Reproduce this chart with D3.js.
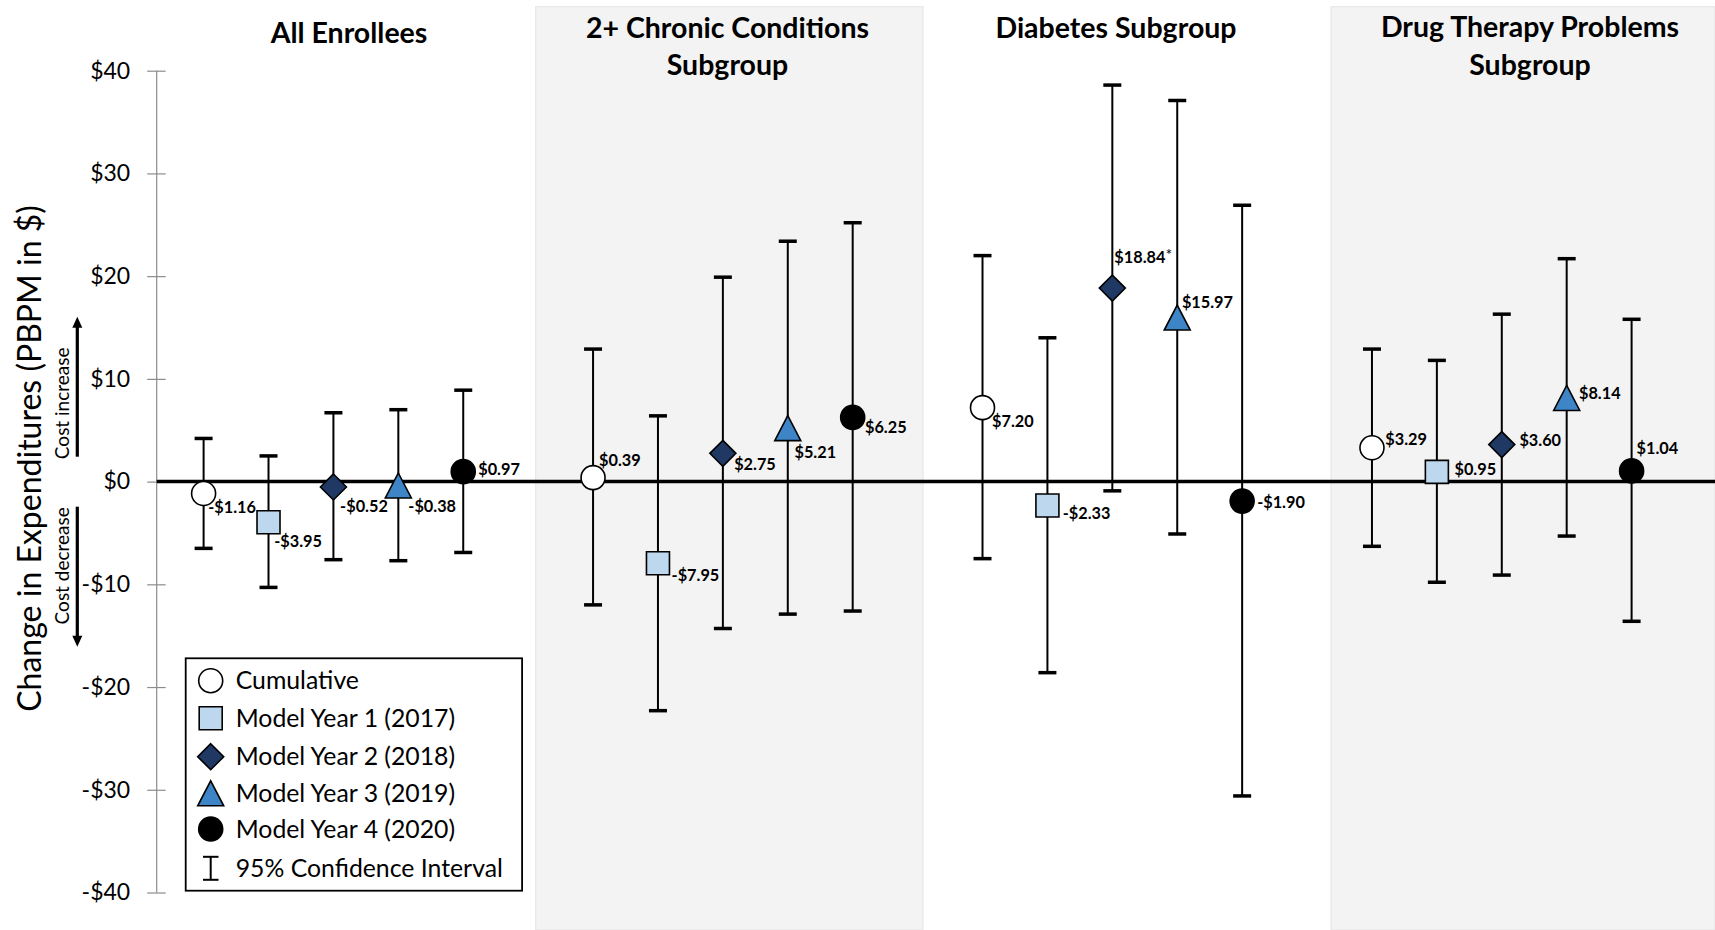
<!DOCTYPE html>
<html><head><meta charset="utf-8">
<script src="https://cdn.jsdelivr.net/npm/d3@7"></script>
<style>
html,body{margin:0;padding:0;background:#fff;}
svg{display:block;font-family:Lato,"Open Sans",sans-serif;}
</style>
</head><body>
<svg id="chart" width="1715" height="930"></svg>
<script>
// ---------------- DATA ----------------
const groups = ["All Enrollees", "2+ Chronic Conditions Subgroup", "Diabetes Subgroup", "Drug Therapy Problems Subgroup"];
const groupTitleLines = [["All Enrollees"], ["2+ Chronic Conditions", "Subgroup"], ["Diabetes Subgroup"], ["Drug Therapy Problems", "Subgroup"]];
const seriesNames = ["Cumulative", "Model Year 1 (2017)", "Model Year 2 (2018)", "Model Year 3 (2019)", "Model Year 4 (2020)"];
const yTickValues = [-40, -30, -20, -10, 0, 10, 20, 30, 40];

const cumulativeEst  = [-1.16, 0.39, 7.20, 3.29];
const cumulativeLow  = [-6.5, -12.0, -7.5, -6.3];
const cumulativeHigh = [4.2, 12.9, 22.0, 12.9];

const my1Est  = [-3.95, -7.95, -2.33, 0.95];
const my1Low  = [-10.3, -22.3, -18.6, -9.8];
const my1High = [2.5, 6.4, 14.0, 11.8];

const my2Est  = [-0.52, 2.75, 18.84, 3.60];
const my2Low  = [-7.6, -14.3, -0.9, -9.1];
const my2High = [6.7, 19.9, 38.6, 16.3];

const my3Est  = [-0.38, 5.21, 15.97, 8.14];
const my3Low  = [-7.7, -12.9, -5.1, -5.3];
const my3High = [7.0, 23.4, 37.1, 21.7];

const my4Est  = [0.97, 6.25, -1.90, 1.04];
const my4Low  = [-6.9, -12.6, -30.6, -13.6];
const my4High = [8.9, 25.2, 26.9, 15.8];

// statistically significant estimates (marked with *)
const my2Significant = [false, false, true, false];
const otherSignificant = [false, false, false, false];

const seriesEst  = [cumulativeEst, my1Est, my2Est, my3Est, my4Est];
const seriesLow  = [cumulativeLow, my1Low, my2Low, my3Low, my4Low];
const seriesHigh = [cumulativeHigh, my1High, my2High, my3High, my4High];
const seriesSig  = [otherSignificant, otherSignificant, my2Significant, otherSignificant, otherSignificant];

// ---------------- LAYOUT (not data) ----------------
const W = 1715, H = 930;
const axisX = 156.7;
const panelEdges = [axisX, 535.7, 923, 1331, W];
const shadedPanels = [1, 3];
const titleCenters = [349, 727.5, 1116, 1530];
const titleBaselines = [[42.7], [37.7, 75], [38.3], [37.3, 75]];
// label offsets [dx, dy] of text baseline-start relative to the point
const labelOffsets = [
  [[4.6, 19], [5.7, 25], [6.7, 25.4], [10, 26], [15, 3]],
  [[6, -11.3], [13.6, 18], [11.3, 16.2], [6.7, 29.8], [12.3, 15.5]],
  [[9.6, 19.7], [15.3, 13.4], [2, -25.2], [4.7, -9.7], [15, 6.8]],
  [[13.3, -3.2], [17.6, 2.8], [17.6, 1], [12.3, 0.6], [5, -17.3]]
];
const seriesStyle = [
  {shape: "circle",   fill: "#ffffff"},
  {shape: "square",   fill: "#bdd7ee"},
  {shape: "diamond",  fill: "#1f3864"},
  {shape: "triangle", fill: "#3d85c6"},
  {shape: "circle",   fill: "#000000"}
];

const svg = d3.select("#chart");

const y = d3.scaleLinear().domain([-40, 40]).range([892.5, 70.7]);
const slotsPerGroup = seriesNames.length + 1;
const x = d3.scaleLinear().domain([0, (groups.length - 1) * slotsPerGroup + seriesNames.length - 1]).range([203.6, 1631.6]);
const px = (g, s) => x(g * slotsPerGroup + s);

// panel shading
svg.append("g").selectAll("rect")
  .data(shadedPanels)
  .join("rect")
  .attr("x", d => panelEdges[d])
  .attr("y", 6.7)
  .attr("width", d => panelEdges[d + 1] - panelEdges[d])
  .attr("height", H - 6.7)
  .attr("fill", "#f3f3f3")
  .attr("stroke", "#e4e4e4")
  .attr("stroke-width", 1);

// titles
const tg = svg.append("g");
groupTitleLines.forEach((lines, gi) => {
  lines.forEach((ln, li) => {
    tg.append("text")
      .attr("x", titleCenters[gi])
      .attr("y", titleBaselines[gi][li])
      .attr("text-anchor", "middle")
      .attr("font-weight", 700)
      .attr("font-size", 28.5)
      .attr("fill", "#000")
      .text(ln);
  });
});

// y axis
const fmtTick = v => (v < 0 ? "-" : "") + "$" + Math.abs(v);
const axis = svg.append("g")
  .attr("transform", `translate(${axisX},0)`)
  .call(d3.axisLeft(y).tickValues(yTickValues).tickFormat(fmtTick).tickSize(9.5).tickPadding(17));
axis.select(".domain").attr("stroke", "#8c8c8c").attr("stroke-width", 1.2).attr("d", `M0,${y(40)}V${y(-40)}`);
axis.selectAll(".tick line").attr("x1", 9).attr("x2", -9.5).attr("stroke", "#8c8c8c").attr("stroke-width", 1.2);
axis.selectAll(".tick text").attr("font-size", 23).attr("fill", "#000").attr("font-family", "Lato");

// zero line
svg.append("line")
  .attr("x1", axisX).attr("x2", W)
  .attr("y1", y(0)).attr("y2", y(0))
  .attr("stroke", "#000").attr("stroke-width", 3.5);

// y title
svg.append("text")
  .attr("transform", `translate(41,${458.5}) rotate(-90)`)
  .attr("text-anchor", "middle")
  .attr("font-size", 32)
  .attr("fill", "#000")
  .text("Change in Expenditures (PBPM in $)");

// cost increase / decrease
svg.append("text")
  .attr("transform", `translate(69,403.3) rotate(-90)`)
  .attr("text-anchor", "middle").attr("font-size", 19).attr("fill", "#000")
  .text("Cost increase");
svg.append("text")
  .attr("transform", `translate(69,565.8) rotate(-90)`)
  .attr("text-anchor", "middle").attr("font-size", 19).attr("fill", "#000")
  .text("Cost decrease");
function arrow(x0, yFrom, yTip) {
  const dir = yTip < yFrom ? -1 : 1;
  svg.append("line").attr("x1", x0).attr("x2", x0).attr("y1", yFrom).attr("y2", yTip - dir * 9)
    .attr("stroke", "#000").attr("stroke-width", 3.2);
  svg.append("path")
    .attr("d", `M${x0},${yTip}L${x0 - 5},${yTip - dir * 11}L${x0 + 5},${yTip - dir * 11}Z`)
    .attr("fill", "#000");
}
arrow(77.3, 456.7, 316.7);
arrow(77.3, 506.7, 646.7);

// marker shapes
function markerPath(shape) {
  if (shape === "circle") return d3.symbol(d3.symbolCircle, Math.PI * 12 * 12)();
  if (shape === "square") return d3.symbol(d3.symbolSquare, 23 * 23)();
  if (shape === "diamond") {
    const p = d3.path(); const r = 13;
    p.moveTo(0, -r); p.lineTo(r, 0); p.lineTo(0, r); p.lineTo(-r, 0); p.closePath();
    return p.toString();
  }
  if (shape === "triangle") {
    const p = d3.path(); const w = 26, h = 25;
    p.moveTo(0, -h / 2); p.lineTo(w / 2, h / 2); p.lineTo(-w / 2, h / 2); p.closePath();
    return p.toString();
  }
}

// build points
const points = [];
groups.forEach((g, gi) => {
  seriesNames.forEach((s, si) => {
    points.push({
      gi, si,
      est: seriesEst[si][gi],
      lo: seriesLow[si][gi],
      hi: seriesHigh[si][gi],
      sig: seriesSig[si][gi]
    });
  });
});

const capW = 18;
const eb = svg.append("g");
eb.selectAll("line.v").data(points).join("line")
  .attr("class", "v")
  .attr("x1", d => px(d.gi, d.si)).attr("x2", d => px(d.gi, d.si))
  .attr("y1", d => y(d.hi)).attr("y2", d => y(d.lo))
  .attr("stroke", "#000").attr("stroke-width", 2);
eb.selectAll("line.ch").data(points).join("line")
  .attr("class", "ch")
  .attr("x1", d => px(d.gi, d.si) - capW / 2).attr("x2", d => px(d.gi, d.si) + capW / 2)
  .attr("y1", d => y(d.hi)).attr("y2", d => y(d.hi))
  .attr("stroke", "#000").attr("stroke-width", 3.5);
eb.selectAll("line.cl").data(points).join("line")
  .attr("class", "cl")
  .attr("x1", d => px(d.gi, d.si) - capW / 2).attr("x2", d => px(d.gi, d.si) + capW / 2)
  .attr("y1", d => y(d.lo)).attr("y2", d => y(d.lo))
  .attr("stroke", "#000").attr("stroke-width", 3.5);

svg.append("g").selectAll("path").data(points).join("path")
  .attr("transform", d => `translate(${px(d.gi, d.si)},${y(d.est)})`)
  .attr("d", d => markerPath(seriesStyle[d.si].shape))
  .attr("fill", d => seriesStyle[d.si].fill)
  .attr("stroke", "#000")
  .attr("stroke-width", 1.6);

const fmtVal = v => (v < 0 ? "-" : "") + "$" + Math.abs(v).toFixed(2);
const lbl = svg.append("g").selectAll("text").data(points).join("text")
  .attr("x", d => px(d.gi, d.si) + labelOffsets[d.gi][d.si][0])
  .attr("y", d => y(d.est) + labelOffsets[d.gi][d.si][1])
  .attr("font-size", 16.3).attr("font-weight", 700).attr("fill", "#000");
lbl.append("tspan").text(d => fmtVal(d.est));
lbl.filter(d => d.sig).append("tspan").attr("font-size", 16).attr("dy", -3).attr("font-weight", 400).text("*");

// legend
const lg = svg.append("g");
lg.append("rect").attr("x", 185.7).attr("y", 658.3).attr("width", 336.4).attr("height", 232.4)
  .attr("fill", "#fff").attr("stroke", "#000").attr("stroke-width", 1.8);
const legendRows = [680.7, 718.3, 756.7, 793.3, 829];
seriesNames.forEach((s, si) => {
  lg.append("path")
    .attr("transform", `translate(210.7,${legendRows[si]})`)
    .attr("d", markerPath(seriesStyle[si].shape))
    .attr("fill", seriesStyle[si].fill)
    .attr("stroke", "#000").attr("stroke-width", 1.6);
  lg.append("text").attr("x", 235.7).attr("y", legendRows[si] + 8.5)
    .attr("font-size", 24.8).attr("fill", "#000").text(s);
});
const ciY = 868.3;
lg.append("line").attr("x1", 210.7).attr("x2", 210.7).attr("y1", ciY - 11.5).attr("y2", ciY + 11.5).attr("stroke", "#000").attr("stroke-width", 2);
lg.append("line").attr("x1", 203).attr("x2", 218.5).attr("y1", ciY - 11.5).attr("y2", ciY - 11.5).attr("stroke", "#000").attr("stroke-width", 2);
lg.append("line").attr("x1", 203).attr("x2", 218.5).attr("y1", ciY + 11.5).attr("y2", ciY + 11.5).attr("stroke", "#000").attr("stroke-width", 2);
lg.append("text").attr("x", 235.7).attr("y", ciY + 8.5)
  .attr("font-size", 24.8).attr("fill", "#000").text("95% Confidence Interval");
</script>
</body></html>
